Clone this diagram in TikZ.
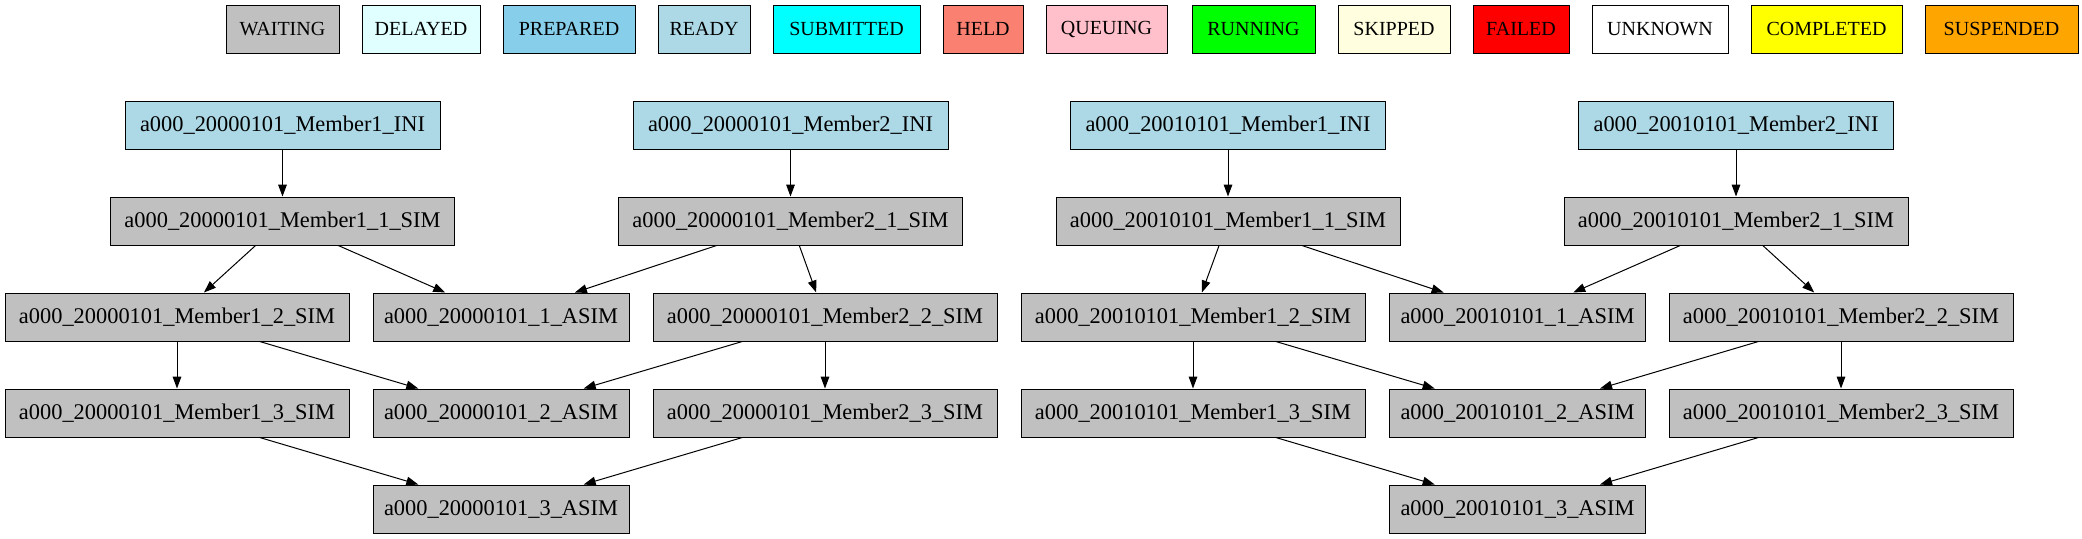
\documentclass[tikz,border=0pt]{standalone}
\usepackage{fontspec}
\setmainfont{Liberation Serif}
\usepackage{tikz}
\usetikzlibrary{arrows.meta}

\definecolor{waiting}{HTML}{C0C0C0}
\definecolor{delayed}{HTML}{E0FFFF}
\definecolor{prepared}{HTML}{87CEEB}
\definecolor{ready}{HTML}{ADD8E6}
\definecolor{submitted}{HTML}{00FFFF}
\definecolor{held}{HTML}{FA8072}
\definecolor{queuing}{HTML}{FFC0CB}
\definecolor{running}{HTML}{00FF00}
\definecolor{skipped}{HTML}{FFFFE0}
\definecolor{failed}{HTML}{FF0000}
\definecolor{unknown}{HTML}{FFFFFF}
\definecolor{completed}{HTML}{FFFF00}
\definecolor{suspended}{HTML}{FFA500}

\begin{document}
\begin{tikzpicture}[x=0.75pt, y=-0.75pt, line width=0.75pt,
		legendbox/.style={draw, rectangle, minimum height=36pt, inner sep=0pt, font=\fontsize{15}{18}\selectfont},
		job/.style={draw, rectangle, fill=waiting, minimum height=36pt, inner sep=0pt, font=\fontsize{16.8}{20}\selectfont},
		sim/.style={job, minimum width=258pt},
		asim/.style={job, minimum width=192pt},
		ini/.style={job, fill=ready, minimum width=236.25pt},
		>={Triangle[length=9pt, width=6.5pt]}]
				\useasboundingbox (0,0) rectangle (2082,539);

				% Legend
				\foreach \lname/\lcol/\lx/\lw in {WAITING/waiting/282.5/84.75, DELAYED/delayed/421/88.5,
						PREPARED/prepared/569/99, READY/ready/704/69, SUBMITTED/submitted/846.5/110.25,
						HELD/held/983/60, QUEUING/queuing/1106.5/90.75, RUNNING/running/1253.5/92.25,
						SKIPPED/skipped/1394/84, FAILED/failed/1521/72, UNKNOWN/unknown/1660/102,
						COMPLETED/completed/1826.5/113.25, SUSPENDED/suspended/2001.5/114.75}
					\node (leg\lname) [legendbox, fill=\lcol, minimum width=\lw pt] at (\lx,29) {\lname};

				% 20000101
				\node (aM1ini) [ini] at (282.5,125) {a000\_20000101\_Member1\_INI};
				\node (aM2ini) [ini] at (790.5,125) {a000\_20000101\_Member2\_INI};
				\node (aM1s1) [sim] at (282.5,221) {a000\_20000101\_Member1\_1\_SIM};
				\node (aM2s1) [sim] at (790.5,221) {a000\_20000101\_Member2\_1\_SIM};
				\node (aM1s2) [sim] at (177,317) {a000\_20000101\_Member1\_2\_SIM};
				\node (aAs1) [asim] at (501,317) {a000\_20000101\_1\_ASIM};
				\node (aM2s2) [sim] at (825,317) {a000\_20000101\_Member2\_2\_SIM};
				\node (aM1s3) [sim] at (177,413) {a000\_20000101\_Member1\_3\_SIM};
				\node (aAs2) [asim] at (501,413) {a000\_20000101\_2\_ASIM};
				\node (aM2s3) [sim] at (825,413) {a000\_20000101\_Member2\_3\_SIM};
				\node (aAs3) [asim] at (501,509) {a000\_20000101\_3\_ASIM};

				% 20010101
				\node (bM1ini) [ini] at (1228,125) {a000\_20010101\_Member1\_INI};
				\node (bM2ini) [ini] at (1736,125) {a000\_20010101\_Member2\_INI};
				\node (bM1s1) [sim] at (1228,221) {a000\_20010101\_Member1\_1\_SIM};
				\node (bM2s1) [sim] at (1736,221) {a000\_20010101\_Member2\_1\_SIM};
				\node (bM1s2) [sim] at (1193,317) {a000\_20010101\_Member1\_2\_SIM};
				\node (bAs1) [asim] at (1517.5,317) {a000\_20010101\_1\_ASIM};
				\node (bM2s2) [sim] at (1841,317) {a000\_20010101\_Member2\_2\_SIM};
				\node (bM1s3) [sim] at (1193,413) {a000\_20010101\_Member1\_3\_SIM};
				\node (bAs2) [asim] at (1517.5,413) {a000\_20010101\_2\_ASIM};
				\node (bM2s3) [sim] at (1841,413) {a000\_20010101\_Member2\_3\_SIM};
				\node (bAs3) [asim] at (1517.5,509) {a000\_20010101\_3\_ASIM};

				% Arrows
				\foreach \d in {a,b} {
					\draw[->] (\d M1ini) -- (\d M1s1);
					\draw[->] (\d M1s1) -- (\d M1s2);
					\draw[->] (\d M1s1) -- (\d As1);
					\draw[->] (\d M1s2) -- (\d M1s3);
					\draw[->] (\d M1s2) -- (\d As2);
					\draw[->] (\d M1s3) -- (\d As3);
					\draw[->] (\d M2ini) -- (\d M2s1);
					\draw[->] (\d M2s1) -- (\d M2s2);
					\draw[->] (\d M2s1) -- (\d As1);
					\draw[->] (\d M2s2) -- (\d M2s3);
					\draw[->] (\d M2s2) -- (\d As2);
					\draw[->] (\d M2s3) -- (\d As3);
				}
			\end{tikzpicture}
\end{document}
